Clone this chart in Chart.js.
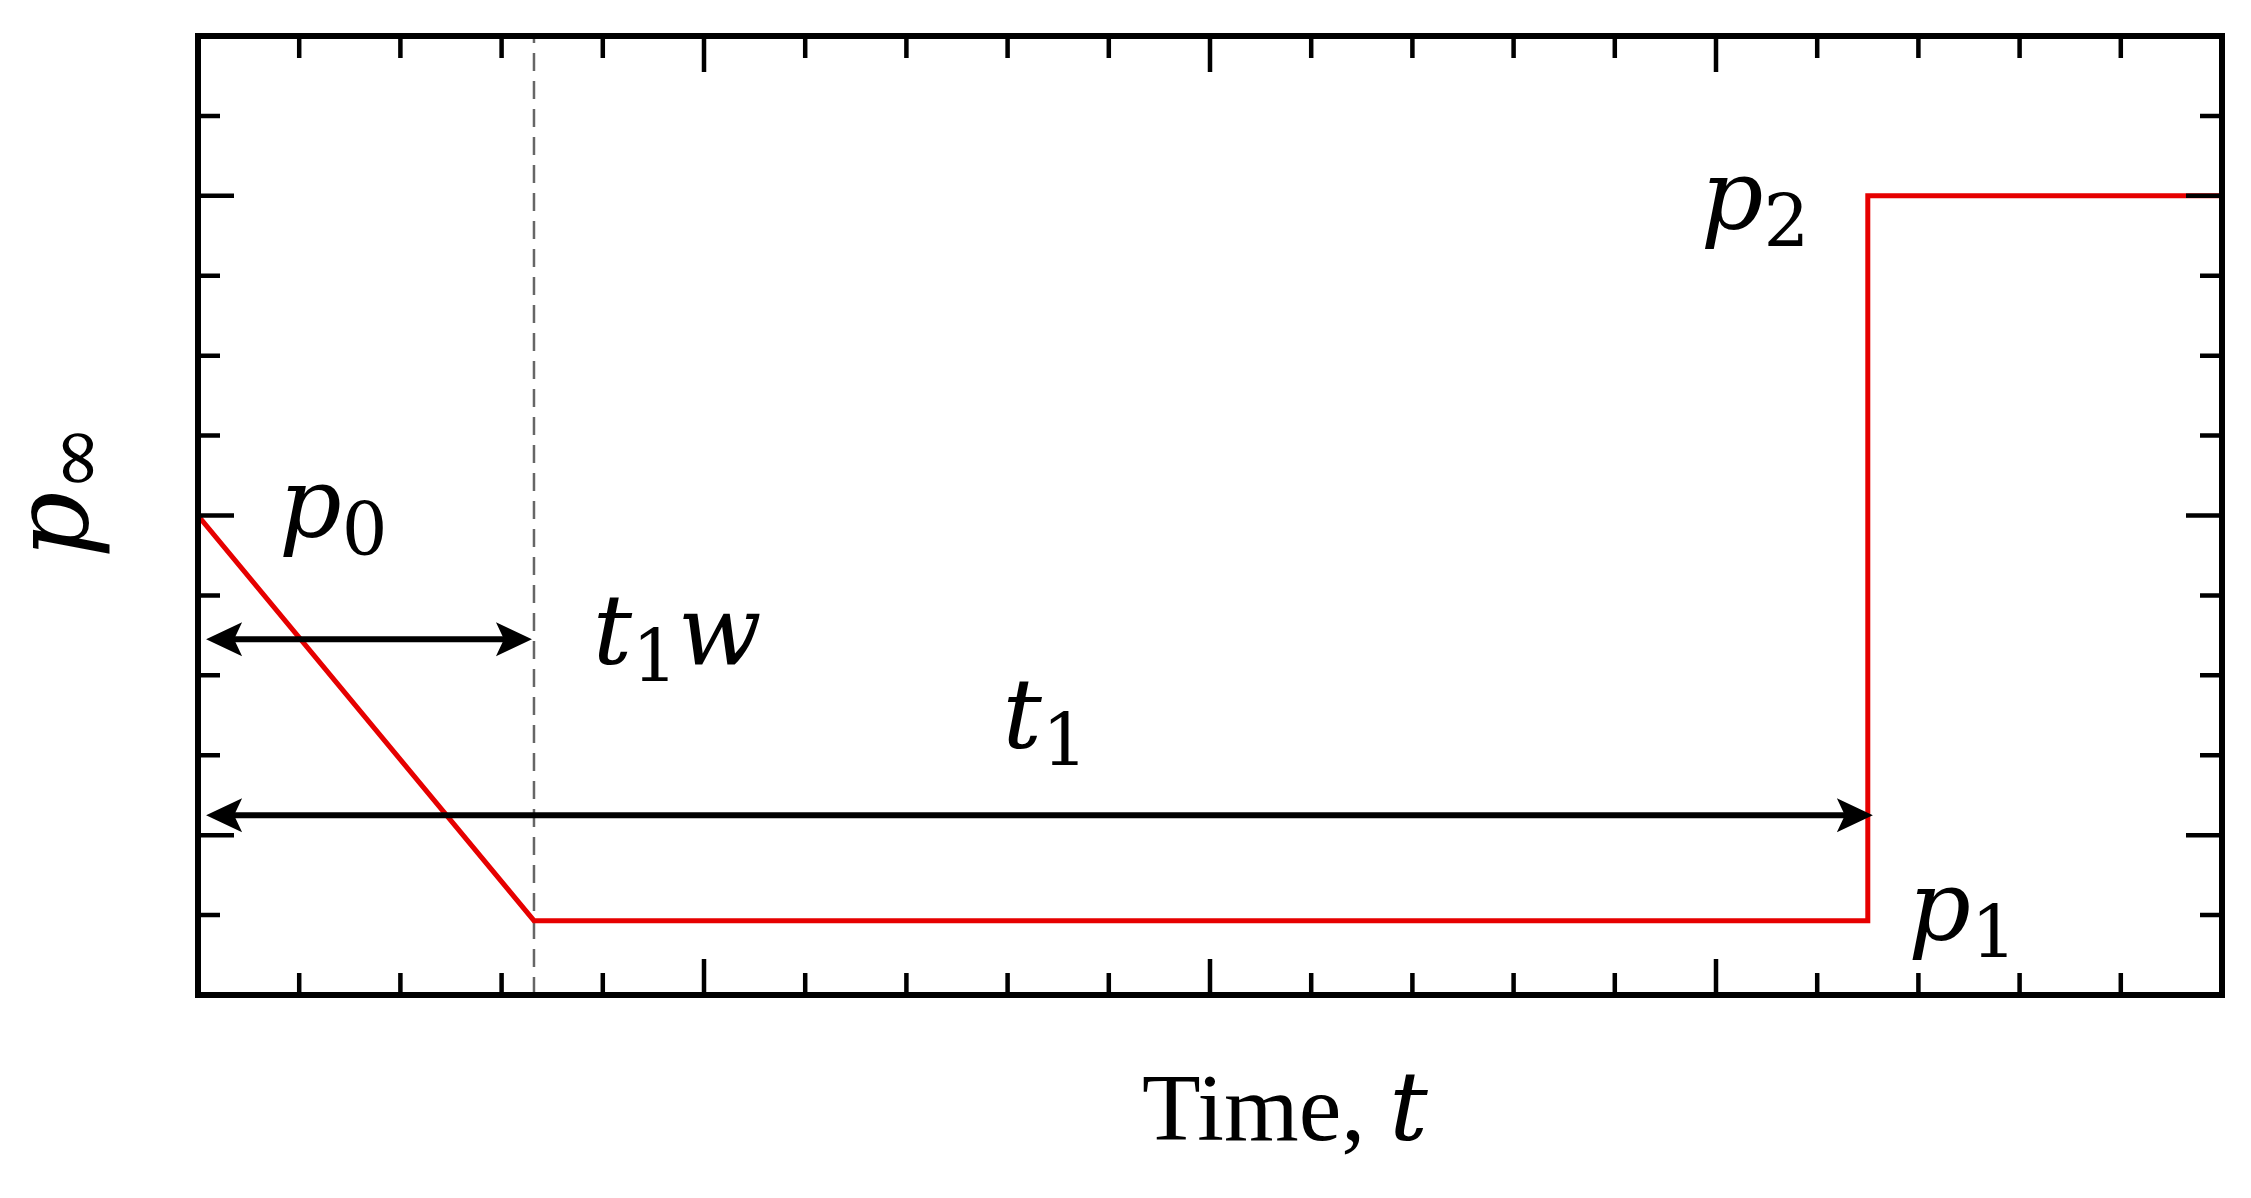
<!DOCTYPE html>
<html><head><meta charset="utf-8">
<script src="https://cdn.jsdelivr.net/npm/chart.js@4"></script>
<style>html,body{margin:0;padding:0;background:#fff}canvas{display:block}</style>
</head><body><canvas id="c" width="2251" height="1198"></canvas>
<script>
const pressureX = [0, 3.32, 16.5, 16.5, 20];
const pressureY = [6, 0.93, 0.93, 10, 10];
const dashX = [3.32, 3.32];
const dashY = [0, 12];
const arrowShort = {x0: 0.08, x1: 3.3, y: 4.45};
const arrowLong = {x0: 0.08, x1: 16.55, y: 2.25};
const labels = [
  {t:'p', sub:'0', x:0.8, y:6.05},
  {t:'t', sub:'1', x:3.9, y:4.45},
  {t:'t', sub:'1', x:7.95, y:3.4},
  {t:'p', sub:'2', x:14.85, y:9.9},
  {t:'p', sub:'1', x:16.9, y:1.0}
];
labels[1].after='w';
const xMajor=[0,5,10,15,20], yMajor=[2,6,10];

const deco = {
  id:'deco',
  afterDatasetsDraw(ch){
    const c=ch.ctx, xs=ch.scales.x, ys=ch.scales.y, a=ch.chartArea;
    c.save();
    c.strokeStyle='#000'; c.lineWidth=6;
    c.strokeRect(a.left,a.top,a.right-a.left,a.bottom-a.top);
    c.lineWidth=4.5;
    for(let i=0;i<=20;i++){const px=xs.getPixelForValue(i);const L=xMajor.includes(i)?36:22;
      c.beginPath();c.moveTo(px,a.bottom);c.lineTo(px,a.bottom-L);c.moveTo(px,a.top);c.lineTo(px,a.top+L);c.stroke();}
    for(let i=0;i<=12;i++){const py=ys.getPixelForValue(i);const L=yMajor.includes(i)?36:22;
      c.beginPath();c.moveTo(a.left,py);c.lineTo(a.left+L,py);c.moveTo(a.right,py);c.lineTo(a.right-L,py);c.stroke();}
    function arrow(o){const x0=xs.getPixelForValue(o.x0),x1=xs.getPixelForValue(o.x1),y=ys.getPixelForValue(o.y);
      c.lineWidth=6;c.beginPath();c.moveTo(x0+20,y);c.lineTo(x1-20,y);c.stroke();
      c.fillStyle='#000';
      c.beginPath();c.moveTo(x0,y);c.lineTo(x0+36,y-17);c.lineTo(x0+28,y);c.lineTo(x0+36,y+17);c.closePath();c.fill();
      c.beginPath();c.moveTo(x1,y);c.lineTo(x1-36,y-17);c.lineTo(x1-28,y);c.lineTo(x1-36,y+17);c.closePath();c.fill();}
    arrow(arrowShort);arrow(arrowLong);
    c.fillStyle='#000';c.textBaseline='alphabetic';c.textAlign='left';
    labels.forEach(l=>{let px=xs.getPixelForValue(l.x),py=ys.getPixelForValue(l.y)+25;
      c.font='italic 98px "DejaVu Serif"';c.fillText(l.t,px,py);px+=c.measureText(l.t).width;
      c.font='72px "DejaVu Serif"';c.fillText(l.sub,px,py+18);px+=c.measureText(l.sub).width;
      if(l.after){c.font='italic 98px "DejaVu Serif"';c.fillText(l.after,px,py);}});
    c.font='96px "Liberation Serif"';c.textAlign='left';
    const tw1=c.measureText('Time, ').width;c.font='italic 96px "DejaVu Serif"';const tw2=c.measureText('t').width;
    const cx=xs.getPixelForValue(10)+75, sx=cx-(tw1+tw2)/2;
    c.font='96px "Liberation Serif"';c.fillText('Time, ',sx,1140);
    c.font='italic 96px "DejaVu Serif"';c.fillText('t',sx+tw1,1140);
    c.save();c.translate(88,ys.getPixelForValue(6.3));c.rotate(-Math.PI/2);
    c.font='italic 104px "DejaVu Serif"';c.textAlign='left';
    const pw=c.measureText('p').width;c.font='80px "DejaVu Serif"';const iw=c.measureText('∞').width;
    const s=-(pw+iw)/2;c.font='italic 104px "DejaVu Serif"';c.fillText('p',s,0);
    c.font='80px "DejaVu Serif"';c.fillText('∞',s+pw,14);c.restore();
    c.restore();
  }
};
new Chart(document.getElementById('c'),{
  type:'line',
  data:{datasets:[
    {data:pressureX.map((x,i)=>({x,y:pressureY[i]})),borderColor:'#e60000',borderWidth:5,pointRadius:0,tension:0},
    {data:dashX.map((x,i)=>({x,y:dashY[i]})),borderColor:'#666',borderWidth:2.5,borderDash:[18,10],pointRadius:0}
  ]},
  options:{responsive:false,animation:false,
    layout:{padding:{left:198,right:29,top:36,bottom:203}},
    plugins:{legend:{display:false},tooltip:{enabled:false}},
    scales:{x:{type:'linear',min:0,max:20,display:false},y:{type:'linear',min:0,max:12,display:false}}},
  plugins:[deco]
});
</script></body></html>
